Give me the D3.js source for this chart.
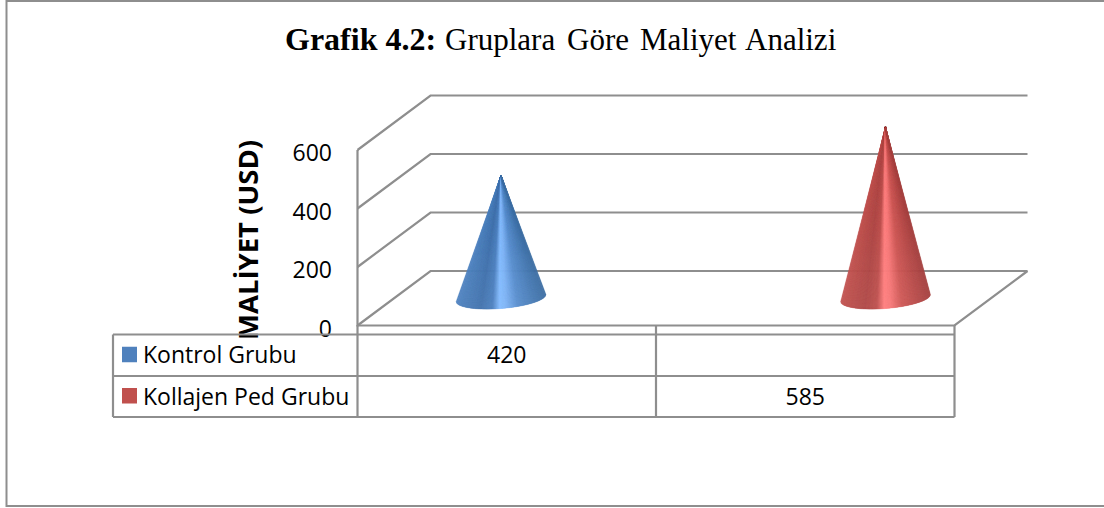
<!DOCTYPE html>
<html lang="en">
<head>
<meta charset="UTF-8">
<title>Grafik 4.2</title>
<style>
    html, body { margin: 0; background: #fff; }
    svg { display: block; }
    .grid { fill: none; stroke: #8e8e8e; stroke-width: 2.2px; }
    .tbl { stroke: #8e8e8e; stroke-width: 2.2px; fill: none; }
    .lbl { font-family: "Open Sans", sans-serif; font-size: 23px; fill: #000; }
</style>
</head>
<body>
<svg id="chart" width="1104" height="508"></svg>
<script src="https://d3js.org/d3.v7.min.js"></script>
<script>
const categories = ["A", "B"];
const seriesNames = ["Kontrol Grubu", "Kollajen Ped Grubu"];
const seriesValues = [[420, null], [null, 585]];
const seriesColors = ["#4f81bd", "#c0504d"];
const shadeBlue = ["#4f83c0", "#4474ae", "#4f82c0", "#85bdff", "#7fb4f5", "#5b90cf", "#3d6ea3"];
const shadeRed = ["#c25350", "#b04a48", "#bf5250", "#ff8080", "#f87a7a", "#cf5a58", "#a54140"];
const shadeStops = [0, 0.27, 0.4, 0.48, 0.55, 0.68, 1];
const yTicks = [0, 200, 400, 600];

const svg = d3.select("#chart");

// outer frame
svg.append("rect").attr("x", 6.5).attr("y", 1).attr("width", 1200).attr("height", 505)
    .attr("fill", "#fff").attr("stroke", "#8e8e8e").attr("stroke-width", 2);

// title
const title = svg.append("text").attr("y", 50)
    .style("font-family", "'Liberation Serif', serif").style("font-size", "31px");
title.append("tspan").attr("x", 285).attr("font-weight", "bold").style("font-size", "32px").text("Grafik 4.2:");
title.append("tspan").attr("x", 445).text("Gruplara");
title.append("tspan").attr("x", 567).text("Göre");
title.append("tspan").attr("x", 640).text("Maliyet");
title.append("tspan").attr("x", 745).text("Analizi");

// 3d box
const depth = { x: 73, y: -54.5 };
const y = d3.scaleLinear().domain([0, 600]).range([325.5, 150]);
const plotLeft = 357.5, plotRight = 954.5;

yTicks.forEach(t => {
    svg.append("path").attr("class", "grid")
        .attr("d", `M${plotLeft},${y(t)}L${plotLeft + depth.x},${y(t) + depth.y}H${plotRight + depth.x}`);
});
svg.append("path").attr("class", "grid")
    .attr("d", `M${plotLeft},${y(600)}V${y(0)}H${plotRight}L${plotRight + depth.x},${y(0) + depth.y}`);

// cones, drawn as thin slices so the shading converges at the tip
const coneX = d3.scalePoint().domain(categories).range([501, 885.5]);
const baseY = 298, rx = 45, ry = 10.5, tilt = -4.7 * Math.PI / 180;
const coneY = v => y(v) - y(0) + baseY;
const fracs = d3.range(0, 181).map(i => i / 180);

function basePoint(cx, f) {
    const u = rx * (2 * f - 1);
    const w = ry * Math.sqrt(Math.max(0, 1 - (2 * f - 1) * (2 * f - 1)));
    return [cx + u * Math.cos(tilt) - w * Math.sin(tilt), baseY + u * Math.sin(tilt) + w * Math.cos(tilt)];
}

seriesValues.forEach((vals, s) => {
    const shade = d3.scaleLinear().domain(shadeStops).range(s === 0 ? shadeBlue : shadeRed);
    vals.forEach((v, i) => {
        if (v === null) return;
        const cx = coneX(categories[i]);
        const tip = [cx, coneY(v)];
        svg.append("g").selectAll("path").data(fracs.slice(1)).enter().append("path")
            .attr("d", (f, k) => d3.line()([tip, basePoint(cx, fracs[k]), basePoint(cx, f)]) + "Z")
            .attr("fill", f => shade(f))
            .attr("stroke", f => shade(f))
            .attr("stroke-width", 0.4)
            .attr("stroke-linejoin", "round");
    });
});

// tick labels
svg.selectAll(".tick-label").data(yTicks).enter().append("text")
    .attr("class", "lbl")
    .attr("x", 332).attr("y", d => y(d) + 11)
    .attr("text-anchor", "end")
    .text(d => d);

// y axis title
svg.append("text")
    .attr("transform", "translate(258,340) rotate(-90)")
    .style("font-family", "'Open Sans', sans-serif").style("font-size", "27.5px").style("font-weight", "bold")
    .text("MALİYET (USD)");

// data table
const rowY = [334.5, 376, 417];
const colX = [113, 357.5, 656, 954.5];
rowY.forEach(r => svg.append("line").attr("class", "tbl")
    .attr("x1", colX[0]).attr("x2", colX[3]).attr("y1", r).attr("y2", r));
colX.forEach((c, i) => svg.append("line").attr("class", "tbl")
    .attr("x1", c).attr("x2", c).attr("y1", i ? 325 : rowY[0]).attr("y2", rowY[2]));

seriesNames.forEach((name, s) => {
    const mid = (rowY[s] + rowY[s + 1]) / 2;
    svg.append("rect").attr("x", 122).attr("y", mid - 8.5).attr("width", 15).attr("height", 15.5)
        .attr("fill", seriesColors[s]);
    svg.append("text").attr("class", "lbl").attr("x", 143).attr("y", mid + 8).text(name);
    seriesValues[s].forEach((v, i) => {
        if (v === null) return;
        svg.append("text").attr("class", "lbl")
            .attr("x", (colX[i + 1] + colX[i + 2]) / 2).attr("y", mid + 8)
            .attr("text-anchor", "middle").text(v);
    });
});
</script>
</body>
</html>
